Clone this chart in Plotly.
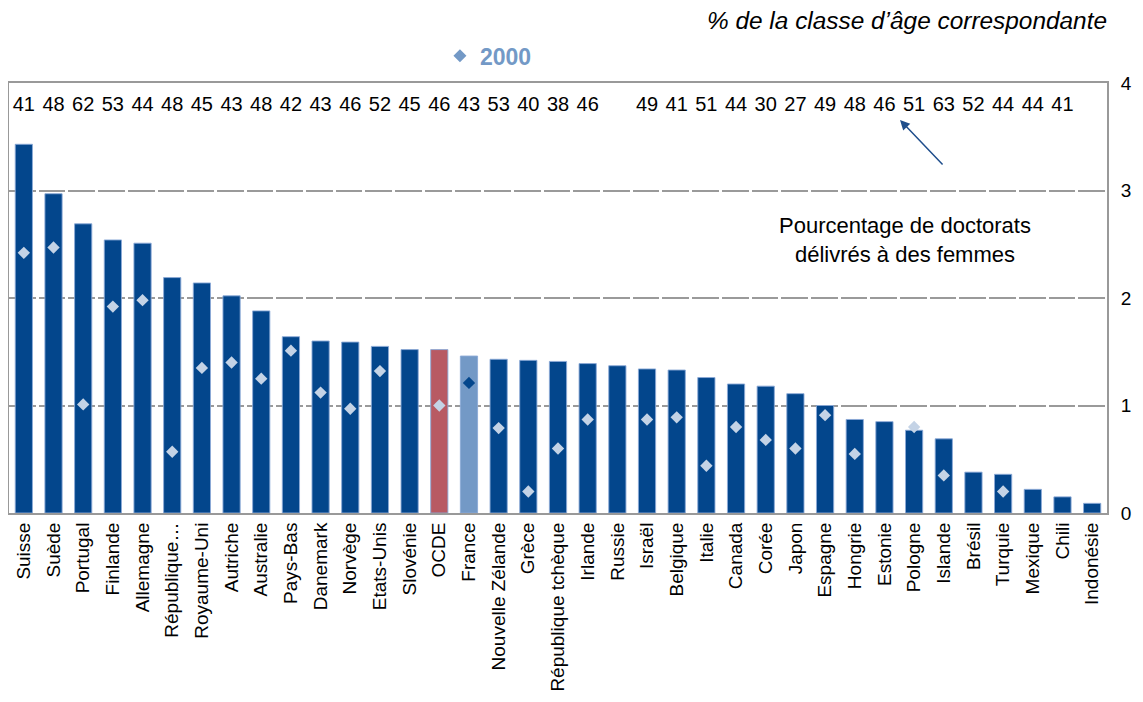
import plotly.graph_objects as go

countries = ["Suisse", "Suède", "Portugal", "Finlande", "Allemagne", "République…", "Royaume-Uni",
             "Autriche", "Australie", "Pays-Bas", "Danemark", "Norvège", "Etats-Unis", "Slovénie",
             "OCDE", "France", "Nouvelle Zélande", "Grèce", "République tchèque", "Irlande", "Russie",
             "Israël", "Belgique", "Italie", "Canada", "Corée", "Japon", "Espagne", "Hongrie",
             "Estonie", "Pologne", "Islande", "Brésil", "Turquie", "Mexique", "Chili", "Indonésie"]

values_2010 = [3.43, 2.97, 2.69, 2.54, 2.51, 2.19, 2.14, 2.02, 1.88, 1.64, 1.60, 1.59, 1.55, 1.52,
               1.52, 1.46, 1.43, 1.42, 1.41, 1.39, 1.37, 1.34, 1.33, 1.26, 1.20, 1.18, 1.11, 1.00,
               0.87, 0.85, 0.77, 0.69, 0.38, 0.36, 0.22, 0.15, 0.09]

values_2000 = [2.42, 2.47, 1.01, 1.92, 1.98, 0.57, 1.35, 1.40, 1.25, 1.51, 1.12, 0.97, 1.32, None,
               1.00, 1.21, 0.79, 0.20, 0.60, 0.87, None, 0.87, 0.89, 0.44, 0.80, 0.68, 0.60, 0.91,
               0.55, None, 0.80, 0.35, None, 0.20, None, None, None]

pct_women = [41, 48, 62, 53, 44, 48, 45, 43, 48, 42, 43, 46, 52, 45, 46, 43, 53, 40, 38, 46, None,
             49, 41, 51, 44, 30, 27, 49, 48, 46, 51, 63, 52, 44, 44, 41, None]

FONT = "Liberation Sans, Arial, sans-serif"
DARK = "#03468c"
OECD_COL = "#b85a63"
FRANCE_COL = "#7399c6"
DIAMOND = "#c4d3e6"

bar_colors = [OECD_COL if c == "OCDE" else FRANCE_COL if c == "France" else DARK for c in countries]
diamond_colors = [DARK if c == "France" else DIAMOND for c in countries]

fig = go.Figure()
fig.add_trace(go.Bar(
    x=countries, y=values_2010,
    marker=dict(color=bar_colors, line=dict(color="rgba(140,170,215,0.9)", width=1)),
    showlegend=False, hoverinfo="x+y",
))
fig.add_trace(go.Scatter(
    x=countries, y=values_2000, mode="markers",
    marker=dict(symbol="diamond", size=9.5, color=diamond_colors, line=dict(width=0)),
    showlegend=False,
))
# legend entry
fig.add_trace(go.Scatter(
    x=[None], y=[None], mode="markers", name="2000",
    marker=dict(symbol="diamond", size=10, color=FRANCE_COL),
    showlegend=True,
))
# percentage of doctorates awarded to women
fig.add_trace(go.Scatter(
    x=countries, y=[3.79] * len(countries), mode="text",
    text=["" if v is None else str(v) for v in pct_women],
    textfont=dict(family=FONT, size=20, color="black"),
    textposition="middle center", showlegend=False, hoverinfo="skip",
))

# page body has an 8px margin: figure is sized so the page never scrolls
fig.update_layout(
    width=1127, height=686,
    margin=dict(l=1, r=28, t=75, b=181, autoexpand=False),
    paper_bgcolor="white", plot_bgcolor="white",
    font=dict(family=FONT, color="black"),
    bargap=0.42,
    legend=dict(x=0.3925, y=1.063, xanchor="left", yanchor="middle",
                font=dict(family=FONT, size=23, color=FRANCE_COL, weight="bold"),
                bgcolor="rgba(0,0,0,0)", itemwidth=30),
    xaxis=dict(
        range=[-0.5, len(countries) - 0.5],
        tickangle=-90, tickfont=dict(family=FONT, size=19, color="black"),
        showline=True, linecolor="#999999", linewidth=2, mirror=True,
        showgrid=False, ticks="", fixedrange=True, automargin=False,
    ),
    yaxis=dict(
        range=[0, 4], dtick=1, side="right",
        tickfont=dict(family=FONT, size=19, color="black"),
        showgrid=True, gridcolor="#9a9a9a", gridwidth=1.6, griddash="26.7px,3px",
        showline=True, linecolor="#999999", linewidth=2, mirror=True,
        ticks="", ticklabelstandoff=8, zeroline=False, automargin=False,
    ),
    annotations=[
        dict(text="<i>% de la classe d’âge correspondante</i>", xref="paper", yref="paper",
             x=(1109 - 9) / 1098, y=1 + (83 - 20) / 430, xanchor="right", yanchor="middle",
             showarrow=False, font=dict(family=FONT, size=24.4, color="black")),
        dict(text="Pourcentage de doctorats<br>délivrés à des femmes", xref="paper", yref="paper",
             x=(905 - 9) / 1098, y=(513 - 240) / 430, xanchor="center", yanchor="middle",
             showarrow=False, align="center",
             font=dict(family=FONT, size=22, color="black")),
        dict(text="", xref="paper", yref="y", x=(900 - 9) / 1098, y=(513 - 120) / 107.5,
             ax=44, ay=46, showarrow=True, arrowhead=2, arrowsize=1.3, arrowwidth=1.5,
             arrowcolor="#1f4e8c"),
    ],
)

fig.write_html("out.html")
